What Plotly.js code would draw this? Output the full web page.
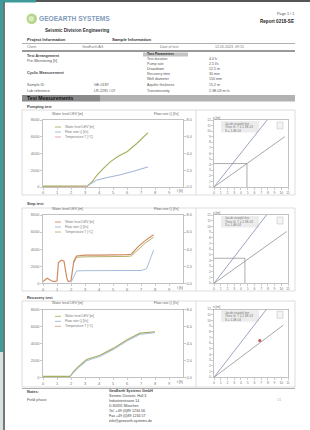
<!DOCTYPE html>
<html><head><meta charset="utf-8">
<script src="https://cdn.plot.ly/plotly-3.0.1.min.js"></script>
<style>html,body{margin:0;padding:0;background:#fff;}#chart{width:310px;height:430px;}</style>
</head><body><div id="chart"></div>
<script>
// ---------------- DATA ----------------
// Row 1 (time series, left chart)
const r1_t_lev = [0,0.5,1,1.5,2,2.5,3,3.2,3.5,3.85,4.3,4.8,5.4,6.0,6.7,7.1,7.5];
const r1_lev   = [100,100,100,100,100,100,100,150,600,1400,2200,3000,3700,4200,5200,5900,6500];
const r1_t_q   = [3.2,3.8,4.5,5.5,6.5,7.5];
const r1_q     = [0.15,0.8,1.1,1.45,1.9,2.4];
const r1_t_tmp = [0,1,2,3,3.2];
const r1_tmp   = [60,60,60,60,60];
// Row 2
const r2_t_lev = [0,0.3,0.6,0.8,1.0,1.1,1.3,1.5,1.7,1.8,2.0,2.2,2.4,3,4,5,6,6.3,6.8,7.3,7.9];
const r2_lev   = [200,600,300,200,300,2400,2700,2600,600,200,300,2600,3200,3300,3300,3300,3350,3400,4300,5000,5700];
const r2_t_lv2 = [2.2,2.4,3,4,5,6,6.3,6.8,7.3,7.9];
const r2_lv2   = [2400,3050,3100,3100,3100,3150,3200,4000,4700,5400];
const r2_t_q   = [2.0,2.4,3,4,5,6,7,7.4,7.9];
const r2_q     = [0.1,1.45,1.48,1.48,1.48,1.48,1.5,1.7,3.9];
// Row 3
const r3_t_lev = [0,1,1.93,2.2,2.52,3.12,4.07,5.02,5.98,6.93,7.5,8.0];
const r3_lev   = [100,100,100,700,1250,2100,2600,3400,4400,5200,5300,5350];
const r3_t_q   = [1.93,2.52,3.12,4.07,5.02,5.98,6.93,7.5,8.0];
const r3_q     = [0.1,1.1,1.95,2.45,3.25,4.25,5.05,5.15,5.25];
// Right charts (diagnostic plots)
const r1_steep_x = [0,7.9],  r1_steep_y = [0,12];
const r1_flat_x  = [0,10.5], r1_flat_y  = [0,9.0];
const r1_con_x   = [0,4.9,4.9], r1_con_y = [4.2,4.2,0];
const r2_steep_x = [0,7.8],  r2_steep_y = [0,12];
const r2_flat_x  = [0,10.8], r2_flat_y  = [0,9.1];
const r2_con_x   = [0,4.6,4.6], r2_con_y = [4.4,4.4,0];
const r3_steep_x = [0,7.8],  r3_steep_y = [0,12];
const r3_flat_x  = [0,10.3], r3_flat_y  = [0,9.2];
const r3_pt_x    = [6.8],    r3_pt_y    = [6.5];
// Tick labels
const levTickVals = [0,2000,4000,6000,8000];
const levTickText = ['0','2000','4000','6000','8000'];
const qTickVals   = [0,2,4,6,8];
const qTickText   = ['0.0','2.0','4.0','6.0','8.0'];
const tTickVals   = [0,1,2,3,4,5,6,7,8,9];
const diagXTicks  = [0,1,2,3,4,5,6,7,8,9,10,11];
const diagYTicks  = [0,1,2,3,4,5,6,7,8,9,10,11,12];
const legendNames = ['Water level LEV [m]','Flow rate Q [l/s]','Temperature T [°C]'];
const rowTitles   = ['Pumping test','Step test','Recovery test'];

// ---------------- LAYOUT HELPERS ----------------
const W=310,H=430, FONT='Liberation Sans, Arial, sans-serif';
const X=p=>p/W, Y=p=>1-p/H;
const shapes=[], ann=[];
function rect(x0,y0,x1,y1,fill,line,lw){shapes.push({type:'rect',xref:'paper',yref:'paper',x0:X(x0),x1:X(x1),y0:Y(y1),y1:Y(y0),fillcolor:fill,line:{color:line||'rgba(0,0,0,0)',width:lw||0},layer:'below'});}
function seg(x0,y0,x1,y1,color,w){shapes.push({type:'line',xref:'paper',yref:'paper',x0:X(x0),x1:X(x1),y0:Y(y0),y1:Y(y1),line:{color:color,width:w}});}
function txt(x,y,s,size,color,anchor){ann.push({xref:'paper',yref:'paper',x:X(x),y:Y(y),text:s,showarrow:false,xanchor:anchor||'left',yanchor:'middle',font:{size:size,color:color||'#555',family:FONT}});}

// page frame
rect(0,0,310,430,'#ffffff');
rect(0,0,36,2.5,'#3f9b99');
rect(0,0,3.2,352,'#3f9b99');
rect(0,352,3.2,430,'#d9e2e2');
rect(36,0,310,2,'#555555');
rect(3.2,2,4.8,430,'#555555');

// header
shapes.push({type:'circle',xref:'paper',yref:'paper',x0:X(26.5),x1:X(37),y0:Y(24),y1:Y(13.5),fillcolor:'#b5d68a',line:{width:0}});
shapes.push({type:'circle',xref:'paper',yref:'paper',x0:X(28.5),x1:X(34),y0:Y(21.5),y1:Y(16),fillcolor:'#dcecc0',line:{width:0}});
txt(37,18.5,'<b>GEOEARTH SYSTEMS</b>',6.6,'#7f9aba');
txt(43,31,'<b>Seismic Division Engineering</b>',4.6,'#333');
txt(296,14,'Page 1 / 1',3.8,'#555','right');
txt(296,21.5,'<b>Report 0218-SE</b>',4.6,'#222','right');
txt(25,40,'<b>Project Information</b>',4.2,'#333');
txt(110,40,'<b>Sample Information</b>',4.2,'#333');
seg(22,43.5,295,43.5,'#9a9a9a',0.8);
txt(25,47,'Client',3.6,'#777'); txt(80,47,'GeoEarth AG',3.6,'#777');
txt(158,47,'Date of test',3.6,'#777'); txt(213,47,'12.05.2023  09:15',3.6,'#777');
seg(22,51,295,51,'#777',1.6);
txt(25,56,'<b>Test Arrangement</b>',3.8,'#444');
txt(25,61,'Pre-Monitoring [h]',3.8,'#555');
txt(25,73,'<b>Cyclic Measurement</b>',3.8,'#444');
rect(143,52.5,188,56.5,'#c4c4c4');
txt(145,54.5,'<b>Test Parameters</b>',3.5,'#333');
const pl=[['Test duration','4.0 h',59],['Pump rate','2.5 l/s',64],['Drawdown','12.5 m',69],['Recovery time','30 min',74],['Well diameter','150 mm',79],['Aquifer thickness','15.2 m',85],['Transmissivity','2.3E-03 m²/s',91]];
pl.forEach(r=>{txt(145,r[2],r[0],3.6,'#555');txt(207,r[2],r[1],3.6,'#555');});
txt(25,85,'Sample ID',3.7,'#555'); txt(92,85,'GE-0187',3.7,'#555');
txt(25,91,'Lab reference',3.7,'#555'); txt(92,91,'LR-2291 / 07',3.7,'#555');
rect(22,95,100,101.5,'#8a8a8a');
rect(100,95,295,101.5,'#b2b2b2');
txt(25,98.3,'<b>Test Measurements</b>',5,'#111');

// rows geometry: [plotTop, plotBottom, boxTop, boxBottom, labelY]
const rows=[[120,187,110,195,107],[215,283.3,208,291,203],[309.3,377.3,301,387,297]];
rows.forEach((r,i)=>{
  const [pt,pb,bt,bb,ly]=r;
  txt(25,ly,'<b>'+rowTitles[i]+'</b>',3.9,'#444');
  rect(22,bt,295,bb,'#ffffff','#cfcfcf',0.7);
  seg(196,bt,196,bb,'#cfcfcf',0.7);
  txt(50,pt-6.5,'Water level LEV [m]',3.5,'#666');
  txt(181,pt-6.5,'Flow rate Q [l/s]',3.5,'#666','right');
  txt(180,pb+4.3,'t [h]',3.5,'#666','center');
  txt(211,pt-2,'s [m]',3.3,'#666');
  // left legend
  const lc=[i===1?'#cf8a60':'#a8b060','#9fb3d6',i===1?'#b8b070':'#d9a0a0'];
  for(let k=0;k<3;k++){const yy=pt+7+5*k;seg(55,yy,61,yy,lc[k],0.9);txt(62.5,yy,legendNames[k],3.3,'#777');}
  // right legend box
  rect(221,pt+1,259,pt+12.5,'#ececec');
  txt(223,pt+3.5,'Jacob straight line',3,'#777');
  txt(223,pt+7,'Theis fit  T = 2.3E-03',3,'#777');
  txt(223,pt+10.5,'S = 1.4E-04',3,'#777');
  rect(277,pt+2,283,pt+9,'#f4f4f4','#bbbbbb',0.5);
});

// footer
seg(22,388.5,295,388.5,'#9a9a9a',0.8);
txt(25,391.5,'<b>Notes:</b>',3.8,'#444');
txt(25,400,'Field phase',3.8,'#555');
const foot=['<b>GeoEarth Systems GmbH</b>','Seismic Division, Hall 3','Industriestrasse 14','D-80331 München','Tel. +49 (0)89 1234 56','Fax +49 (0)89 1234 57','info@geoearth-systems.de'];
const fy=[391,395.5,400.5,405.5,410.5,415.5,420.5];
foot.forEach((s,k)=>txt(107,fy[k],s,3.6,'#444'));
txt(284,400,'1/1',3,'#aaa','right');

// ---------------- AXES ----------------
const tf={size:4,color:'#777',family:FONT};
function baseAx(extra){return Object.assign({showline:true,linecolor:'#9a9a9a',linewidth:0.6,ticks:'outside',ticklen:2,tickwidth:0.5,tickcolor:'#9a9a9a',showgrid:false,zeroline:false,tickfont:tf,fixedrange:true},extra);}
const layout={width:W,height:H,margin:{l:0,r:0,t:0,b:0},autosize:false,showlegend:false,
  paper_bgcolor:'#ffffff',plot_bgcolor:'rgba(0,0,0,0)',shapes:shapes,annotations:ann,font:{family:FONT}};
const LX=[X(43),X(183)], RX=[X(214),X(288)];
const traces=[];
function ln(x,y,xa,ya,color,w){traces.push({type:'scatter',mode:'lines',x:x,y:y,xaxis:xa,yaxis:ya,line:{color:color,width:w||1},hoverinfo:'skip'});}

rows.forEach((r,i)=>{
  const dom=[Y(r[1]),Y(r[0])];
  const xl=2*i+1, xr=2*i+2, yl=3*i+1, yq=3*i+2, yd=3*i+3;
  const nm=n=>n===1?'':String(n);
  layout['xaxis'+nm(xl)]=baseAx({domain:LX,anchor:'y'+nm(yl),range:[0,10],tickvals:tTickVals,mirror:true});
  layout['yaxis'+nm(yl)]=baseAx({domain:dom,anchor:'x'+nm(xl),range:[0,8000],tickvals:levTickVals,ticktext:levTickText});
  layout['yaxis'+nm(yq)]=baseAx({overlaying:'y'+nm(yl),anchor:'x'+nm(xl),side:'right',range:[0,8],tickvals:qTickVals,ticktext:qTickText});
  layout['xaxis'+nm(xr)]=baseAx({domain:RX,anchor:'y'+nm(yd),range:[0,11],tickvals:diagXTicks,tickfont:{size:3.4,color:'#777',family:FONT},mirror:true});
  layout['yaxis'+nm(yd)]=baseAx({domain:dom,anchor:'x'+nm(xr),range:[0,12],tickvals:diagYTicks,tickfont:{size:3.2,color:'#777',family:FONT},mirror:true});
});

// row 1 traces
ln(r1_t_tmp,r1_tmp,'x','y','#e0a0a0',0.9);
ln(r1_t_q,r1_q,'x','y2','#9fb3d6',1);
ln(r1_t_lev,r1_lev,'x','y','#a8b060',1.2);
ln(r1_steep_x,r1_steep_y,'x2','y3','#8e9bb8',0.9);
ln(r1_flat_x,r1_flat_y,'x2','y3','#9d9d9d',0.9);
ln(r1_con_x,r1_con_y,'x2','y3','#8a8a8a',0.7);
// row 2
ln(r2_t_q,r2_q,'x3','y5','#a9bcdc',1);
ln(r2_t_lv2,r2_lv2,'x3','y4','#b8b070',1);
ln(r2_t_lev,r2_lev,'x3','y4','#cf8a60',1.2);
ln(r2_steep_x,r2_steep_y,'x4','y6','#8e9bb8',0.9);
ln(r2_flat_x,r2_flat_y,'x4','y6','#9d9d9d',0.9);
ln(r2_con_x,r2_con_y,'x4','y6','#8a8a8a',0.7);
// row 3
ln(r3_t_q,r3_q,'x5','y8','#a9bcdc',1);
ln(r3_t_lev,r3_lev,'x5','y7','#a8b060',1.2);
ln(r3_steep_x,r3_steep_y,'x6','y9','#8e9bb8',0.9);
ln(r3_flat_x,r3_flat_y,'x6','y9','#9d9d9d',0.9);
traces.push({type:'scatter',mode:'markers',x:r3_pt_x,y:r3_pt_y,xaxis:'x6',yaxis:'y9',marker:{color:'#c65050',size:3},hoverinfo:'skip'});

Plotly.newPlot('chart',traces,layout,{staticPlot:true,displayModeBar:false});
</script></body></html>
